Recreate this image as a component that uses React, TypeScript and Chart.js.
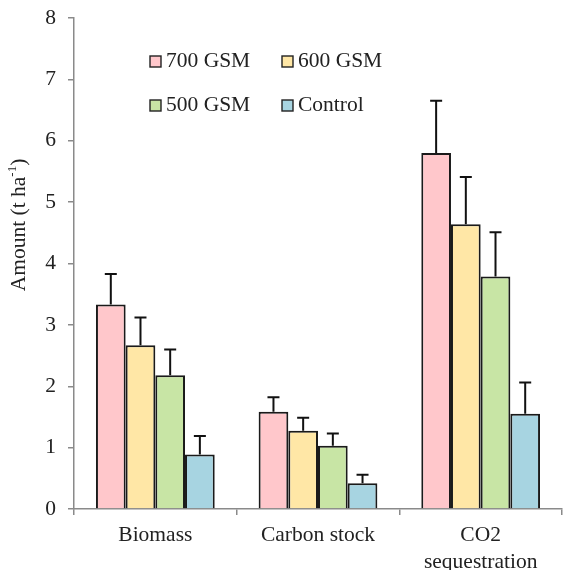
import React, { useEffect, useRef } from "react";
import { Chart, registerables } from "chart.js";

Chart.register(...registerables);

const categories: (string | string[])[] = ["Biomass", "Carbon stock", ["CO2", "sequestration"]];
const seriesNames = ["700 GSM", "600 GSM", "500 GSM", "Control"];
const seriesColors = ["#FFC7CB", "#FFE7A6", "#C8E5A5", "#A7D4E1"];

const gsm700 = [3.33, 1.585, 5.8];
const gsm600 = [2.67, 1.275, 4.64];
const gsm500 = [2.18, 1.03, 3.79];
const control = [0.89, 0.42, 1.55];

const err700 = [0.5, 0.235, 0.85];
const err600 = [0.45, 0.21, 0.77];
const err500 = [0.42, 0.2, 0.72];
const errControl = [0.3, 0.14, 0.51];

const yTicks = [0, 1, 2, 3, 4, 5, 6, 7, 8];

const FONT = "'Liberation Serif', 'Times New Roman', serif";
const FS = 21.5;

const seriesValues = [gsm700, gsm600, gsm500, control];
const seriesErrors = [err700, err600, err500, errControl];

const errorBarPlugin = {
  id: "errorBars",
  afterDatasetsDraw(chart: any) {
    const ctx = chart.ctx;
    const yScale = chart.scales.y;
    ctx.save();
    ctx.strokeStyle = "#111";
    ctx.lineWidth = 2;
    chart.data.datasets.forEach((ds: any, di: number) => {
      const meta = chart.getDatasetMeta(di);
      meta.data.forEach((bar: any, i: number) => {
        const v = ds.data[i];
        const e = ds.errors[i];
        const x = bar.x;
        const y0 = yScale.getPixelForValue(v);
        const y1 = yScale.getPixelForValue(v + e);
        ctx.beginPath();
        ctx.moveTo(x, y0);
        ctx.lineTo(x, y1);
        ctx.moveTo(x - 6, y1);
        ctx.lineTo(x + 6, y1);
        ctx.stroke();
      });
    });
    ctx.restore();
  },
};

const decorPlugin = {
  id: "decor",
  afterDraw(chart: any) {
    const ctx = chart.ctx;
    ctx.save();
    // Legend
    const positions = [
      [150, 67],
      [282, 67],
      [150, 111],
      [282, 111],
    ];
    ctx.font = `${FS}px ${FONT}`;
    ctx.textBaseline = "alphabetic";
    ctx.textAlign = "left";
    chart.data.datasets.forEach((ds: any, i: number) => {
      const [x, y] = positions[i];
      ctx.fillStyle = ds.backgroundColor;
      ctx.fillRect(x, y - 11, 11, 11);
      ctx.strokeStyle = "#222";
      ctx.lineWidth = 1.4;
      ctx.strokeRect(x, y - 11, 11, 11);
      ctx.fillStyle = "#222";
      ctx.fillText(ds.label, x + 16, y);
    });
    // Y axis title
    ctx.translate(19, 225);
    ctx.rotate(-Math.PI / 2);
    ctx.fillStyle = "#222";
    const main = "Amount (t ha";
    const sup = "-1";
    const close = ")";
    ctx.font = `${FS}px ${FONT}`;
    const w1 = ctx.measureText(main).width;
    const w3 = ctx.measureText(close).width;
    ctx.font = `13px ${FONT}`;
    const w2 = ctx.measureText(sup).width;
    const total = w1 + w2 + w3;
    let x = -total / 2;
    ctx.textBaseline = "middle";
    ctx.font = `${FS}px ${FONT}`;
    ctx.fillText(main, x, 0);
    x += w1;
    ctx.font = `13px ${FONT}`;
    ctx.fillText(sup, x, -6);
    x += w2;
    ctx.font = `${FS}px ${FONT}`;
    ctx.fillText(close, x, 0);
    ctx.restore();
  },
};

export default function App() {
  const ref = useRef<HTMLCanvasElement>(null);
  useEffect(() => {
    if (!ref.current) return;
    const chart = new Chart(ref.current, {
      type: "bar",
      data: {
        labels: categories,
        datasets: seriesNames.map((name, i) => ({
          label: name,
          data: seriesValues[i],
          errors: seriesErrors[i],
          backgroundColor: seriesColors[i],
          borderColor: "#1a1a1a",
          borderWidth: 2,
          categoryPercentage: 0.73,
          barPercentage: 1.0,
        })) as any,
      },
      options: {
        animation: false,
        responsive: false,
        maintainAspectRatio: false,
        layout: { padding: { left: 0, top: 18, right: 1, bottom: 0 } },
        plugins: {
          legend: { display: false },
          tooltip: { enabled: false },
        },
        scales: {
          x: {
            grid: {
              offset: true,
              drawOnChartArea: false,
              tickLength: 6,
              color: "#8a8a8a",
              lineWidth: 1.5,
            },
            border: { color: "#8a8a8a", width: 1.5 },
            ticks: {
              color: "#222",
              font: { family: FONT, size: FS, lineHeight: 1.25 },
              padding: 7,
              maxRotation: 0,
              autoSkip: false,
            },
            afterFit: (axis: any) => {
              axis.height = 61;
              axis.paddingLeft = 0;
              axis.paddingRight = 0;
            },
          },
          y: {
            min: 0,
            max: 8,
            afterBuildTicks: (axis: any) => {
              axis.ticks = yTicks.map((v) => ({ value: v }));
            },
            grid: {
              drawOnChartArea: false,
              tickLength: 6,
              color: "#8a8a8a",
              lineWidth: 1.5,
            },
            border: { color: "#8a8a8a", width: 1.5 },
            ticks: {
              color: "#222",
              font: { family: FONT, size: FS },
              padding: 12,
            },
            afterFit: (axis: any) => {
              axis.width = 74;
              axis.paddingTop = 0;
              axis.paddingBottom = 0;
            },
          },
        },
      },
      plugins: [errorBarPlugin, decorPlugin],
    });
    return () => chart.destroy();
  }, []);
  return (
    <div style={{ position: "fixed", left: 0, top: 0, width: 563, height: 570, background: "#fff" }}>
      <canvas ref={ref} width={563} height={570} />
    </div>
  );
}
